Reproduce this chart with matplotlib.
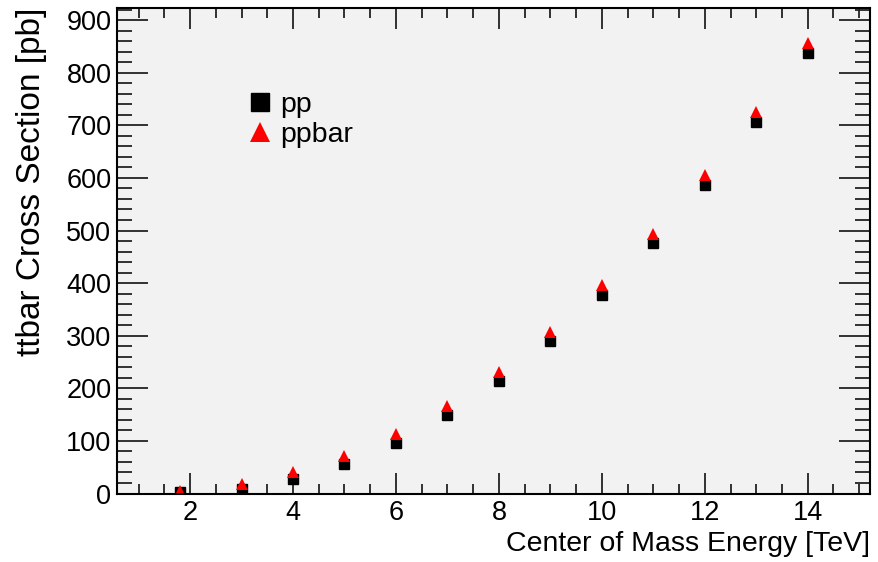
import numpy as np
import matplotlib.pyplot as plt
from matplotlib.ticker import MultipleLocator

# center of mass energy [TeV]
energy = [1.8, 3, 4, 5, 6, 7, 8, 9, 10, 11, 12, 13, 14]
# ttbar cross section [pb]
xsec_pp = [2, 9, 27, 57, 96, 150, 213, 290, 377, 477, 586, 706, 837]
xsec_ppbar = [4, 18, 41, 72, 113, 166, 231, 307, 396, 493, 605, 725, 856]

plt.rcParams['font.family'] = ['Liberation Sans', 'DejaVu Sans']

fig = plt.figure(figsize=(8.79, 5.62), dpi=100)
ax = fig.add_axes([117/879, 1 - 493.5/562, (870.5-117)/879, (493.5-7.5)/562])
ax.set_facecolor('#f2f2f2')

ax.plot(energy, xsec_pp, ls='none', marker='s', ms=7.6, color='black', label='pp')
ax.plot(energy, xsec_ppbar, ls='none', marker='^', ms=8.6, color='red',
        markeredgewidth=0, label='ppbar')

ax.set_xlim(0.58, 15.22)
ax.set_ylim(0, 924)

ax.xaxis.set_major_locator(MultipleLocator(2))
ax.xaxis.set_minor_locator(MultipleLocator(0.5))
ax.yaxis.set_major_locator(MultipleLocator(100))
ax.yaxis.set_minor_locator(MultipleLocator(20))
ax.set_xticks([2, 4, 6, 8, 10, 12, 14])

ax.tick_params(which='both', direction='in', top=True, right=True,
               labelsize=19.5, color='#222222')
ax.tick_params(axis='x', which='major', length=15, width=1.3, pad=5)
ax.tick_params(axis='x', which='minor', length=7.5, width=1.3)
ax.tick_params(axis='y', which='major', length=22, width=1.3, pad=4)
ax.tick_params(axis='y', which='minor', length=11, width=1.3)
for s in ax.spines.values():
    s.set_linewidth(1.5)

ax.set_xlabel('Center of Mass Energy [TeV]', fontsize=20.5, loc='right')
ax.set_ylabel('ttbar Cross Section [pb]', fontsize=24, loc='top')
ax.xaxis.set_label_coords(1.0, -0.077)
ax.yaxis.set_label_coords(-0.093, 1.0)

ax.legend(loc='upper left', bbox_to_anchor=(0.1765, 0.827), frameon=False,
          fontsize=20.5, markerscale=1.75, handlelength=0.7, handletextpad=0.35,
          labelspacing=0.15, borderaxespad=0, borderpad=0)

fig.savefig('out.png', dpi=100)
